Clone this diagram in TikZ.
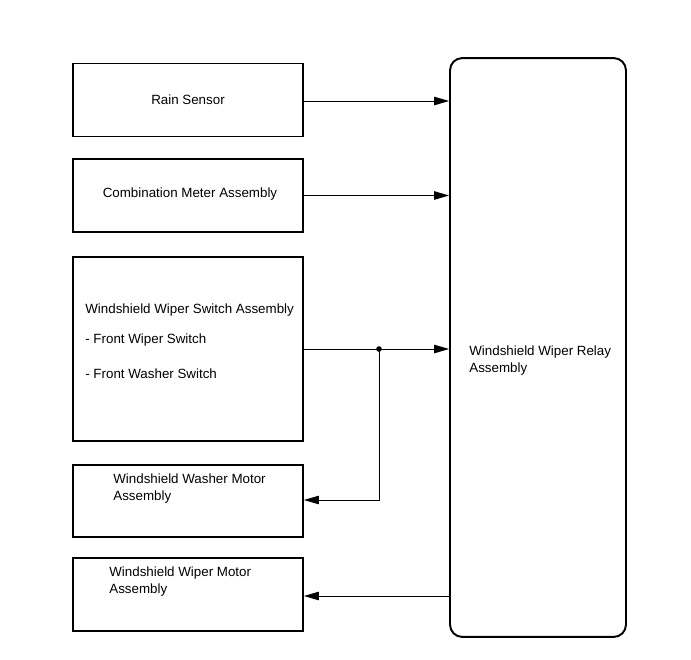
\documentclass[tikz,border=0pt]{standalone}
\usepackage{fontspec}
\setmainfont{Liberation Sans}
\usetikzlibrary{arrows.meta,positioning,calc}
\tikzset{
  blk/.style={draw,line width=1.1pt,minimum width=4.6cm,inner sep=0pt},
  relaybox/.style={draw,line width=1.1pt,rounded corners=7pt,minimum width=3.52cm,minimum height=11.58cm,inner sep=0pt},
  txt/.style={font=\fontsize{7.6}{9.2}\selectfont,inner sep=0pt,align=left},
  sig/.style={line width=0.5pt,-{Triangle[length=3mm,width=1.7mm]}}
}
\begin{document}
\begin{tikzpicture}[x=0.02cm,y=-0.02cm]
  \useasboundingbox (0,0) rectangle (691,660);
  % blocks
  \node[blk,minimum height=1.46cm] (rain) at (188,100) {};
  \node[blk,minimum height=1.46cm] (meter) at (188,195.5) {};
  \node[blk,minimum height=3.68cm] (sw) at (188,349) {};
  \node[blk,minimum height=1.44cm] (washer) at (188,501) {};
  \node[blk,minimum height=1.46cm] (wiper) at (188,594.5) {};
  \node[relaybox] (relay) at (538,347.5) {};
  % texts
  \node[txt] (rainT) at (188,99.5) {Rain Sensor};
  \node[txt] (meterT) at (190,194.5) {Combination Meter Assembly};
  \node[txt,anchor=west] (swT1) at (85,310.5) {Windshield Wiper Switch Assembly};
  \node[txt,anchor=west] (swT2) at (85,340.5) {- Front Wiper Switch};
  \node[txt,anchor=west] (swT3) at (85,373.5) {- Front Washer Switch};
  \node[txt,anchor=west] (washerT) at (113,488.5) {Windshield Washer Motor\\Assembly};
  \node[txt,anchor=west] (wiperT) at (109,581.5) {Windshield Wiper Motor\\Assembly};
  \node[txt,anchor=west] (relayT) at (469,360.5) {Windshield Wiper Relay\\Assembly};
  % connectors
  \draw[sig] ([yshift=-0.02cm]rain.east) -- ([yshift=-0.02cm]rain.east -| relay.west);
  \draw[sig] (meter.east) -- (meter.east -| relay.west);
  \coordinate (jn) at (379,349);
  \draw[sig] (sw.east) -- (sw.east -| relay.west);
  \fill (jn) circle (1.6pt);
  \draw[sig] (jn) |- ([yshift=0.02cm]washer.east);
  \draw[sig] ([yshift=-0.03cm]wiper.east -| relay.west) -- ([yshift=-0.03cm]wiper.east);
\end{tikzpicture}
\end{document}
